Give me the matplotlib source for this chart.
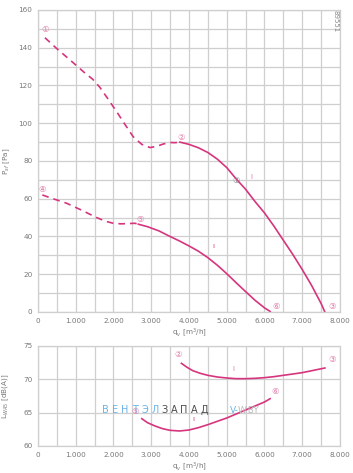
import matplotlib
matplotlib.use("Agg")
import matplotlib.pyplot as plt
import numpy as np
from matplotlib.ticker import MultipleLocator, FuncFormatter

# ---- data ----
# top chart: static pressure curves
I_dash_q = [185, 500, 850, 1250, 1450, 1640, 1850, 2085, 2300, 2520, 2750, 2970, 3150, 3320, 3500, 3630, 3760]
I_dash_p = [145.3, 139.5, 133.5, 126.5, 123.3, 119.0, 113.0, 106.1, 99.5, 92.9, 88.8, 87.1, 87.8, 89.0, 89.8, 89.7, 90.0]
I_solid_q = [3760, 4000, 4250, 4500, 4750, 5000, 5250, 5500, 5750, 6000, 6250, 6500, 6750, 7000, 7250, 7500, 7600]
I_solid_p = [90.0, 88.8, 87.0, 84.5, 81.0, 76.5, 70.5, 65.0, 58.5, 52.5, 45.5, 38.0, 30.5, 22.5, 14.0, 4.5, 0.0]
II_dash_q = [115, 400, 760, 1150, 1555, 1800, 1995, 2200, 2350, 2570, 2660]
II_dash_p = [62.0, 60.0, 57.6, 54.0, 50.0, 48.0, 47.0, 46.7, 46.8, 47.0, 46.5]
II_solid_q = [2660, 2900, 3200, 3500, 3750, 4000, 4250, 4500, 4750, 5000, 5250, 5500, 5750, 6000, 6150]
II_solid_p = [46.5, 45.2, 43.0, 40.0, 37.6, 35.0, 32.2, 28.8, 24.8, 20.3, 15.5, 10.8, 6.2, 2.2, 0.3]

# bottom chart: sound power
LI_q = [3800, 3950, 4100, 4300, 4500, 4750, 5000, 5250, 5500, 5750, 6000, 6250, 6500, 6750, 7000, 7300, 7600]
LI_l = [72.4, 71.8, 71.3, 70.9, 70.6, 70.35, 70.2, 70.1, 70.1, 70.15, 70.25, 70.4, 70.6, 70.8, 71.0, 71.35, 71.7]
LII_q = [2750, 2900, 3100, 3300, 3500, 3750, 4000, 4250, 4500, 4750, 5000, 5250, 5500, 5750, 6000, 6150]
LII_l = [64.1, 63.5, 63.0, 62.6, 62.35, 62.25, 62.4, 62.75, 63.2, 63.7, 64.2, 64.8, 65.4, 66.0, 66.6, 67.1]

# point labels
top_marks = [("①", 185, 149.6), ("②", 3790, 92.7), ("③", 7780, 2.8),
             ("④", 115, 65.0), ("⑤", 2700, 49.0), ("⑥", 6300, 2.8)]
top_grey_mark = ("⑦", 5236, 69.4)
bot_marks = [("②", 3716, 73.65), ("③", 7780, 73.0), ("⑤", 2570, 65.2), ("⑥", 6278, 68.2)]

xticks = [0, 1000, 2000, 3000, 4000, 5000, 6000, 7000, 8000]

CURVE = "#d6357e"
GRID = "#cfcfcf"
TXT = "#777777"

fig = plt.figure(figsize=(3.53, 4.73), dpi=100)
ax1 = fig.add_axes([0.1076, 0.3404, 0.8555, 0.6385])
ax2 = fig.add_axes([0.1076, 0.0571, 0.8555, 0.2114])

fmt = FuncFormatter(lambda v, p: "0" if v == 0 else f"{int(v):,}".replace(",", "."))

for ax in (ax1, ax2):
    ax.set_xlim(0, 8000)
    ax.set_xticks(xticks)
    ax.xaxis.set_major_formatter(fmt)
    ax.xaxis.set_minor_locator(MultipleLocator(500))
    ax.grid(True, which="both", color=GRID, lw=0.9)
    ax.set_axisbelow(True)
    for s in ax.spines.values():
        s.set_color(GRID)
        s.set_linewidth(0.9)
    ax.tick_params(which="both", length=0, labelsize=5.2, labelcolor=TXT, pad=4)
    ax.set_xlabel("q$_v$ [m$^3$/h]", fontsize=5.2, color=TXT, labelpad=2)

ax1.set_ylim(0, 160)
ax1.set_yticks(np.arange(0, 161, 20))
ax1.yaxis.set_minor_locator(MultipleLocator(10))
ax1.set_ylabel("P$_{sf}$ [Pa]", fontsize=5.2, color=TXT, labelpad=5)

ax2.set_ylim(60, 75)
ax2.set_yticks([60, 65, 70, 75])
ax2.yaxis.set_minor_locator(MultipleLocator(5))
ax2.set_ylabel("L$_{WA5}$ [dB(A)]", fontsize=5.2, color=TXT, labelpad=9)

ax1.plot(I_dash_q, I_dash_p, color=CURVE, lw=1.2, ls=(0, (4, 3)))
ax1.plot(I_solid_q, I_solid_p, color=CURVE, lw=1.2)
ax1.plot(II_dash_q, II_dash_p, color=CURVE, lw=1.2, ls=(0, (4, 3)))
ax1.plot(II_solid_q, II_solid_p, color=CURVE, lw=1.2)
ax2.plot(LI_q, LI_l, color=CURVE, lw=1.2)
ax2.plot(LII_q, LII_l, color=CURVE, lw=1.2)

for t, x, y in top_marks:
    ax1.text(x, y, t, color="#e07aa8", fontsize=6, ha="center", va="center", family="DejaVu Sans")
t, x, y = top_grey_mark
ax1.text(x, y, t, color="#888888", fontsize=6, ha="center", va="center", family="DejaVu Sans")
for t, x, y in bot_marks:
    ax2.text(x, y, t, color="#e07aa8", fontsize=6, ha="center", va="center", family="DejaVu Sans")

ax1.text(5660, 71.7, "I", color="#e07aa8", fontsize=5, ha="center", va="center")
ax1.text(4670, 34.6, "II", color="#e07aa8", fontsize=4, ha="center", va="center")
ax2.text(5175, 71.5, "I", color="#e07aa8", fontsize=5, ha="center", va="center")
ax2.text(4130, 63.9, "II", color="#e07aa8", fontsize=4, ha="center", va="center")

# id number
fig.text(335 / 353, 1 - 21 / 473, "89551", rotation=270, fontsize=5, color="#888888",
         ha="center", va="center")

# watermark, letter by letter
wm_blue = "ВЕНТЭЛ"
wm_dark = "ЗАПАД"
ywm = 1 - 410 / 473
for i, ch in enumerate(wm_blue):
    fig.text((105 + i * 10.0) / 353, ywm, ch, fontsize=7, color="#6ab4e8", ha="center", va="center")
for i, ch in enumerate(wm_dark):
    fig.text((164 + i * 10.0) / 353, ywm, ch, fontsize=7, color="#4a4a4a", ha="center", va="center")
fig.text(230 / 353, ywm, "V-", fontsize=6.5, color="#6ab4e8", ha="left", va="center")
fig.text(238 / 353, ywm, "W.BY", fontsize=6.5, color="#bbbbbb", ha="left", va="center")

fig.savefig("out.png", dpi=100)
